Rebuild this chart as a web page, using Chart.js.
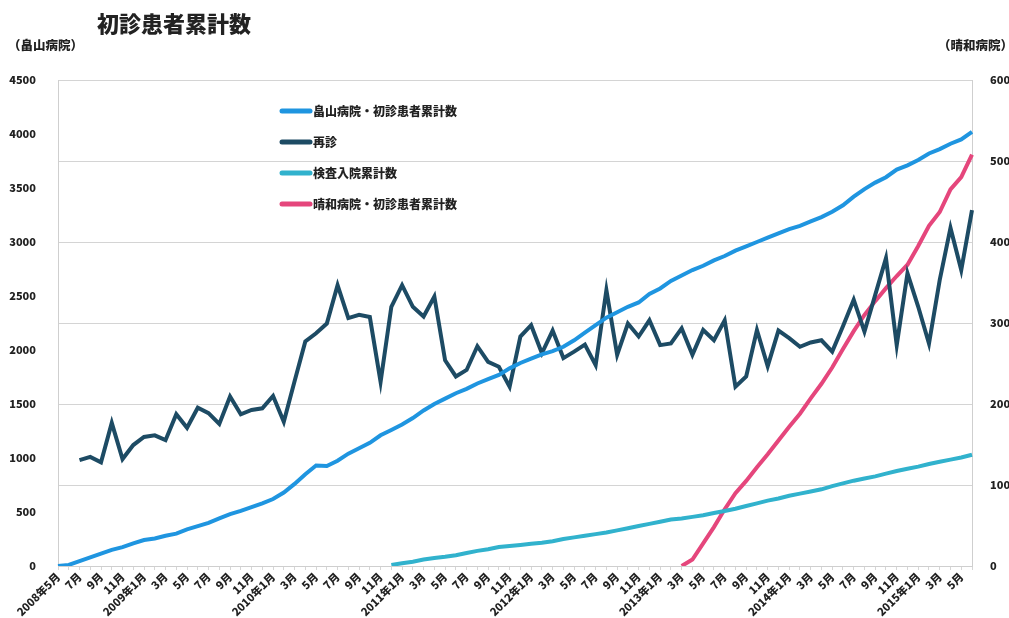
<!DOCTYPE html>
<html>
<head>
<meta charset="utf-8">
<script src="https://cdn.jsdelivr.net/npm/chart.js@4.4.0/dist/chart.umd.min.js"></script>
<style>
  html, body { margin: 0; padding: 0; background: #fff; }
  #wrap { position: relative; width: 1009px; height: 618px; overflow: hidden; }
  #myChart { position: absolute; left: 0; top: 0; }
  .lbl { position: absolute; font-family: 'Noto Sans CJK JP', sans-serif; font-weight: 900; color: #222; white-space: nowrap; }
  #title { left: 97px; top: 6px; font-size: 22px; }
  #unitL { left: 8px; top: 35px; font-size: 12.5px; }
  #unitR { left: 938px; top: 35px; font-size: 12.5px; }
</style>
</head>
<body>
<div id="wrap">
  <canvas id="myChart" width="1009" height="618"></canvas>
  <div class="lbl" id="title">初診患者累計数</div>
  <div class="lbl" id="unitL">（畠山病院）</div>
  <div class="lbl" id="unitR">（晴和病院）</div>
</div>
<script>
// months 2008-05 .. 2015-06
var months = [
  "2008年5月","6月","7月","8月","9月","10月","11月","12月",
  "2009年1月","2月","3月","4月","5月","6月","7月","8月","9月","10月","11月","12月",
  "2010年1月","2月","3月","4月","5月","6月","7月","8月","9月","10月","11月","12月",
  "2011年1月","2月","3月","4月","5月","6月","7月","8月","9月","10月","11月","12月",
  "2012年1月","2月","3月","4月","5月","6月","7月","8月","9月","10月","11月","12月",
  "2013年1月","2月","3月","4月","5月","6月","7月","8月","9月","10月","11月","12月",
  "2014年1月","2月","3月","4月","5月","6月","7月","8月","9月","10月","11月","12月",
  "2015年1月","2月","3月","4月","5月","6月"
];

var hatakeyamaNew = [
  0, 10, 45, 80, 115, 150, 175, 210, 240, 255, 280, 300, 340, 370, 400, 440,
  480, 510, 545, 580, 620, 680, 760, 850, 930, 925, 975, 1040, 1090, 1140, 1210, 1260,
  1310, 1370, 1440, 1500, 1550, 1600, 1640, 1690, 1730, 1770, 1830, 1880, 1920, 1960, 1990, 2030,
  2090, 2160, 2230, 2300, 2350, 2400, 2440, 2520, 2570, 2640, 2690, 2740, 2780, 2830, 2870, 2920,
  2960, 3000, 3040, 3080, 3120, 3150, 3190, 3230, 3280, 3340, 3420, 3490, 3550, 3600, 3670, 3710,
  3760, 3820, 3860, 3910, 3950, 4020
];

var revisit = [
  null, null, 980, 1010, 960, 1325, 990, 1120, 1195, 1210, 1165, 1405, 1280, 1465, 1415, 1315,
  1570, 1405, 1445, 1460, 1575, 1335, 1710, 2080, 2155, 2245, 2600, 2295, 2325, 2305, 1705, 2400,
  2600, 2400, 2310, 2495, 1905, 1755, 1815, 2035, 1890, 1845, 1660, 2125, 2230, 1970, 2180, 1925,
  1985, 2050, 1860, 2555, 1955, 2245, 2125, 2275, 2045, 2060, 2200, 1955, 2185, 2090, 2275, 1660,
  1755, 2185, 1850, 2180, 2110, 2030, 2070, 2090, 1985, 2220, 2465, 2170, 2510, 2850, 2045, 2710,
  2400, 2060, 2650, 3130, 2740, 3295
];

var inpatient = [
  null, null, null, null, null, null, null, null, null, null, null, null, null, null, null, null,
  null, null, null, null, null, null, null, null, null, null, null, null, null, null, null, 10,
  25, 40, 60, 75, 85, 100, 120, 140, 155, 175, 185, 195, 205, 215, 230, 250,
  265, 280, 295, 310, 330, 350, 370, 390, 410, 430, 440, 455, 470, 490, 510, 530,
  555, 580, 605, 625, 650, 670, 690, 710, 740, 765, 790, 810, 830, 855, 880, 900,
  920, 945, 965, 985, 1005, 1030
];

var seiwaNew = [
  null, null, null, null, null, null, null, null, null, null, null, null, null, null, null, null,
  null, null, null, null, null, null, null, null, null, null, null, null, null, null, null, null,
  null, null, null, null, null, null, null, null, null, null, null, null, null, null, null, null,
  null, null, null, null, null, null, null, null, null, null, 0, 8, 28, 48, 70, 90,
  105, 122, 138, 155, 172, 188, 207, 225, 245, 268, 290, 310, 327, 343, 358, 372,
  395, 420, 437, 465, 480, 508
];

var seriesNames = ["畠山病院・初診患者累計数", "再診", "検査入院累計数", "晴和病院・初診患者累計数"];
var seriesColors = ["#1f95e0", "#1d4b64", "#31b2cd", "#e5467c"];

var tickFont = { family: "'Noto Sans CJK JP', sans-serif", size: 11, weight: "900" };

// legend drawn inside the plot
var innerLegend = {
  id: "innerLegend",
  afterDraw: function (chart) {
    var ctx = chart.ctx;
    var x0 = 280, y0 = 111, dy = 31;
    ctx.save();
    chart.data.datasets.forEach(function (ds, i) {
      var y = y0 + i * dy;
      ctx.strokeStyle = ds.borderColor;
      ctx.lineWidth = 5;
      ctx.lineCap = "round";
      ctx.beginPath();
      ctx.moveTo(x0 + 2, y);
      ctx.lineTo(x0 + 30, y);
      ctx.stroke();
      ctx.fillStyle = "#222";
      ctx.font = "900 12px 'Noto Sans CJK JP', sans-serif";
      ctx.textBaseline = "middle";
      ctx.fillText(ds.label, x0 + 33, y);
    });
    ctx.restore();
  }
};

function mkSet(i, data, axis) {
  return {
    label: seriesNames[i],
    data: data,
    yAxisID: axis,
    borderColor: seriesColors[i],
    backgroundColor: seriesColors[i],
    borderWidth: 4,
    pointRadius: 0,
    fill: false,
    tension: 0,
    spanGaps: false
  };
}

function plain(v) { return String(v); }

new Chart("myChart", {
  type: "line",
  data: {
    labels: months,
    datasets: [
      mkSet(0, hatakeyamaNew, "y"),
      mkSet(1, revisit, "y"),
      mkSet(2, inpatient, "y"),
      mkSet(3, seiwaNew, "y1")
    ]
  },
  plugins: [innerLegend],
  options: {
    responsive: false,
    animation: false,
    layout: { padding: { top: 80, left: 0, right: 0, bottom: 0 } },
    plugins: {
      legend: { display: false },
      title: { display: false },
      tooltip: { enabled: false }
    },
    scales: {
      x: {
        offset: false,
        border: { color: "#cfcfcf" },
        grid: { drawOnChartArea: false, color: "#d6d6d6", tickLength: 4 },
        ticks: {
          autoSkip: false,
          minRotation: 45,
          maxRotation: 45,
          padding: 0,
          color: "#222",
          font: tickFont,
          callback: function (v, i) { return i % 2 === 0 ? months[i] : ""; }
        },
        afterFit: function (s) { s.height = 52; }
      },
      y: {
        position: "left",
        min: 0,
        max: 4500,
        border: { color: "#cfcfcf" },
        grid: { display: false },
        ticks: { stepSize: 500, padding: 14, color: "#222", font: tickFont, callback: plain },
        afterFit: function (s) { s.width = 58; }
      },
      y1: {
        position: "right",
        min: 0,
        max: 600,
        border: { color: "#cfcfcf" },
        grid: { color: "#d4d4d4", drawTicks: false },
        ticks: { stepSize: 100, padding: 18, color: "#222", font: tickFont, callback: plain },
        afterFit: function (s) { s.width = 37; }
      }
    }
  }
});
</script>
</body>
</html>
